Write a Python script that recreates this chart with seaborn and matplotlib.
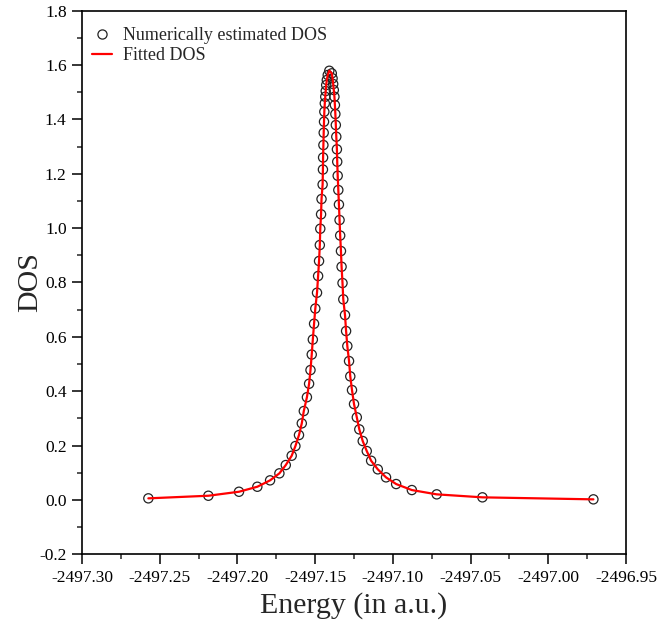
import matplotlib
matplotlib.use("Agg")
import matplotlib.pyplot as plt
from matplotlib.ticker import MultipleLocator, FormatStrFormatter
from matplotlib.lines import Line2D
import seaborn as sns
import pandas as pd

energy = [
    -2497.2573, -2497.2187, -2497.1990, -2497.1872, -2497.1790, -2497.1730,
    -2497.1689, -2497.1651, -2497.1627, -2497.1604, -2497.1586, -2497.1573,
    -2497.1553, -2497.1539, -2497.1530, -2497.1522, -2497.1515, -2497.1507,
    -2497.1499, -2497.1488, -2497.1481, -2497.1475, -2497.1470, -2497.1467,
    -2497.1462, -2497.1459, -2497.1452, -2497.1450, -2497.1449, -2497.1447,
    -2497.1445, -2497.1443, -2497.1441, -2497.1438, -2497.1435, -2497.1432,
    -2497.1429, -2497.1425, -2497.1419, -2497.1409,
    -2497.1393, -2497.1388, -2497.1384, -2497.1380, -2497.1376, -2497.1373,
    -2497.1370, -2497.1367, -2497.1364, -2497.1360, -2497.1358, -2497.1355,
    -2497.1351, -2497.1347, -2497.1343, -2497.1339, -2497.1334, -2497.1330,
    -2497.1324, -2497.1319, -2497.1308, -2497.1301, -2497.1293, -2497.1282,
    -2497.1274, -2497.1263, -2497.1250, -2497.1232, -2497.1216, -2497.1194,
    -2497.1168, -2497.1140, -2497.1097, -2497.1044, -2497.0979, -2497.0878,
    -2497.0718, -2497.0424, -2496.9710,
]
dos_numeric = [
    0.0059, 0.0155, 0.0302, 0.0486, 0.0721, 0.0979,
    0.1284, 0.1626, 0.1983, 0.2388, 0.2818, 0.3271,
    0.3779, 0.4275, 0.4779, 0.5350, 0.5901, 0.6483,
    0.7042, 0.7623, 0.8238, 0.8790, 0.9378, 0.9978,
    1.0508, 1.1071, 1.1604, 1.2156, 1.2598, 1.3057,
    1.3510, 1.3915, 1.4283, 1.4592, 1.4834, 1.5044,
    1.5265, 1.5449, 1.5633, 1.5790,
    1.5695, 1.5511, 1.5302, 1.5081, 1.4834, 1.4529,
    1.4198, 1.3793, 1.3363, 1.2899, 1.2443, 1.1928,
    1.1402, 1.0868, 1.0298, 0.9728, 0.9157, 0.8580,
    0.7980, 0.7380, 0.6803, 0.6214, 0.5662, 0.5110,
    0.4547, 0.4043, 0.3528, 0.3039, 0.2597, 0.2167,
    0.1799, 0.1442, 0.1126, 0.0831, 0.0585, 0.0364,
    0.0206, 0.0096, 0.0022,
]
dos_fitted = list(dos_numeric)

labels = ["Numerically estimated DOS", "Fitted DOS"]

df = pd.DataFrame({"energy": energy, "numeric": dos_numeric, "fitted": dos_fitted})

sns.set_style("ticks")
plt.rcParams["font.family"] = ["Liberation Serif", "DejaVu Serif"]

fig = plt.figure(figsize=(6.59, 6.25), dpi=100)
ax = fig.add_axes([0.1244, 0.1131, 0.8256, 0.8698])

sns.lineplot(data=df, x="energy", y="fitted", color="red", linewidth=1.6,
             estimator=None, sort=False, ax=ax, zorder=3)
sns.scatterplot(data=df, x="energy", y="numeric", marker="o", s=44,
                facecolors="none", edgecolor="#222222", linewidth=0.9,
                ax=ax, zorder=2)

ax.set_xlim(-2497.30, -2496.95)
ax.set_ylim(-0.2, 1.8)
ax.xaxis.set_major_locator(MultipleLocator(0.05))
ax.xaxis.set_minor_locator(MultipleLocator(0.025))
ax.yaxis.set_major_locator(MultipleLocator(0.2))
ax.yaxis.set_minor_locator(MultipleLocator(0.1))
ax.xaxis.set_major_formatter(FormatStrFormatter("%.2f"))
ax.yaxis.set_major_formatter(FormatStrFormatter("%.1f"))
ax.tick_params(which="major", direction="out", length=7.5, width=1.1, labelsize=12.5,
               top=False, right=False, colors="black")
ax.tick_params(which="minor", direction="out", length=3.5, width=1.1,
               top=False, right=False)
for sp in ax.spines.values():
    sp.set_visible(True)
    sp.set_linewidth(1.2)
    sp.set_color("black")

ax.set_xlabel("Energy (in a.u.)", fontsize=21.5, labelpad=5)
ax.set_ylabel("DOS", fontsize=21.5, labelpad=-3)

handles = [
    Line2D([], [], marker="o", linestyle="none", markerfacecolor="none",
           markeredgecolor="#222222", markersize=6.6, markeredgewidth=0.9),
    Line2D([], [], color="red", linewidth=1.6),
]
ax.legend(handles, labels, loc="upper left", frameon=False, fontsize=13,
          handlelength=1.1, handletextpad=0.6, borderaxespad=0.15,
          labelspacing=0.15, bbox_to_anchor=(0.0, 0.988))

fig.savefig("out.png", dpi=100)
